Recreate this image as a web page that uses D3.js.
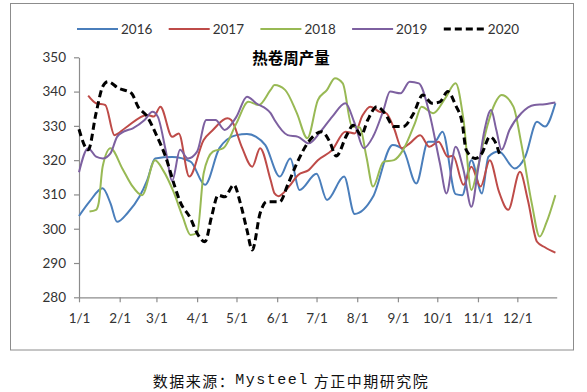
<!DOCTYPE html>
<html><head><meta charset="utf-8">
<script src="https://cdn.jsdelivr.net/npm/d3@7"></script>
<style>
html,body{margin:0;padding:0;background:#fff;}
svg{display:block;}
</style></head>
<body>
<svg id="chart" width="587" height="392"></svg>
<script>
// ---- data (day of year offsets from Jan 1, weekly readings) ----
const years = ["2016", "2017", "2018", "2019", "2020"];
const colors = ["#4A7EBB", "#BE4B48", "#98B954", "#7D60A0", "#000000"];
const yTicks = [280, 290, 300, 310, 320, 330, 340, 350];
const monthTicks = ["01-01","02-01","03-01","04-01","05-01","06-01","07-01","08-01","09-01","10-01","11-01","12-01"];

const days2016 = [0,8,18,24,29,37,46,52,58,71,85,96,107,120,128,135,142,153,161,168,181,189,202,210,224,239,247,257,266,271,277,287,292,299,307,312,320,332,340,349,355,363];
const vals2016 = [303.7,307.9,311.8,307.4,302,304.6,309.3,314.2,320.5,320.9,319.6,312.8,323.5,327.3,327.6,326.8,324.4,315.2,320.5,311.3,316,308.4,315.2,304.3,309.3,324.4,323,313.2,325.4,325.4,328.3,310.1,309.8,320,310.3,321,322.5,317.6,321,331.2,329.8,336.6];

const days2017 = [7,13,20,27,35,52,57,62,71,76,84,95,102,113,116,124,132,138,146,149,152,160,167,175,182,193,203,210,216,222,229,234,240,246,252,260,267,274,281,285,293,299,306,313,320,327,336,342,349,355,363];
const vals2017 = [338.8,336.6,336.1,327.3,329.3,333.2,332.7,335.6,326.8,327.8,315.2,325.9,328.8,332.2,331.7,323.9,318.1,323.5,314.2,310.3,309.5,312.3,315.7,317.1,320,323,328.3,327.8,333,335.6,334.1,333.7,329.3,323.5,324.9,327.3,323.9,325.4,321,321.3,312.8,318.1,312.3,320,310.8,305.5,316.6,308.4,296.2,294.6,293];

const days2018 = [8,13,15,18,24,33,40,48,58,64,72,79,85,90,95,102,110,120,129,137,146,149,157,166,174,182,189,195,201,208,214,219,224,232,240,247,256,261,270,279,287,293,299,304,311,317,322,331,337,345,351,356,363];
const vals2018 = [305,305.5,307.5,318.1,323.5,317.6,312.8,309.8,320,317.1,310.8,303.5,298.2,298.7,316.2,322.5,323.5,330.8,337,336.1,340.5,341.9,340.5,333.7,326.4,337.5,340.5,343.9,342.4,329.8,329.5,321,312.3,319.5,320,323,330.8,335.6,333.7,338,342.4,331.7,311.3,318.1,329.8,336.6,339,335.6,324.9,307.4,297.7,301.6,309.8];

const days2019 = [0,7,13,18,24,29,34,41,50,56,60,66,71,77,83,90,97,104,111,120,128,135,146,149,159,167,175,184,193,203,210,217,224,232,237,245,252,259,267,275,280,287,293,299,304,309,314,318,322,328,337,347,355,363];
const vals2019 = [316.5,323.5,321,320.5,322,326.8,328.3,329.3,331.7,334.1,332.7,323,314,323,320.5,322.5,331.7,331.7,328.8,332.7,338.5,336.6,333.7,331.7,327.3,326.8,324.9,328.3,332.7,336.6,330.8,323.5,326.8,334.6,340,339.5,342.9,342.4,333.7,319.1,310.3,323.9,317.1,306.4,317.1,328.8,334.6,328.8,323,328.8,333.7,336.1,336.3,336.8];

const days2020 = [0,7,13,18,22,30,40,45,52,59,66,73,77,85,90,96,101,106,111,118,123,128,132,138,143,153,159,166,175,185,191,196,204,209,215,220,227,233,240,247,255,262,269,275,281,287,292,295,302,307,313,317,321];
const vals2020 = [329,323,333.7,341.4,342.9,341,339.5,335.6,332.7,327.3,321,312.3,307.9,303,298.7,296.2,303.5,309.8,309.3,312.8,307.4,299.6,293.8,304.5,307.9,307.9,312.8,319.1,325.4,328.3,325.4,321.2,327.3,330.2,327.3,331.7,335.6,333.7,329.8,329.8,333.7,339,336.6,337,340,336,330.8,323,320.5,322,326.8,325.4,321];

const seriesDays = [days2016, days2017, days2018, days2019, days2020];
const seriesVals = [vals2016, vals2017, vals2018, vals2019, vals2020];

const title = "热卷周产量";
const source = ["数据来源：", "Mysteel", " 方正中期研究院"];

// ---- drawing ----
const svg = d3.select("#chart");
const base = new Date(2019, 0, 1);
const toDate = d => d3.timeDay.offset(base, d);
const parseMD = s => new Date(2019, +s.slice(0,2) - 1, +s.slice(3));

const margin = {left: 79, right: 30.3, top: 57.3, bottom: 94.7};
const W = 587, H = 392;

const x = d3.scaleTime()
  .domain([base, new Date(2019, 11, 31)])
  .range([margin.left, W - margin.right]);
const y = d3.scaleLinear()
  .domain([280, 350])
  .range([H - margin.bottom, margin.top]);

// outer frame
svg.append("rect")
  .attr("x", 10.5).attr("y", 3.5)
  .attr("width", 563).attr("height", 346.5)
  .attr("fill", "#fff").attr("stroke", "#8C8C8C").attr("stroke-width", 1);

const font = "Lato, 'Liberation Sans', sans-serif";

// y axis
const yAxis = svg.append("g")
  .attr("transform", `translate(${margin.left},0)`)
  .call(d3.axisLeft(y).tickValues(yTicks).tickSize(5).tickSizeOuter(0).tickPadding(8));
// x axis
const xAxis = svg.append("g")
  .attr("transform", `translate(0,${H - margin.bottom})`)
  .call(d3.axisBottom(x).tickValues(monthTicks.map(parseMD))
    .tickFormat(d3.timeFormat("%-m/%-d")).tickSize(5).tickSizeOuter(0).tickPadding(11));

[yAxis, xAxis].forEach(g => {
  g.selectAll(".domain").attr("stroke", "#8C8C8C").attr("stroke-width", 1.2);
  g.selectAll(".tick line").attr("stroke", "#8C8C8C").attr("stroke-width", 1.2);
  g.selectAll("text").attr("fill", "#333").style("font-family", font).style("font-size", "13.5px");
});

// lines
const line = d3.line()
  .x(d => x(toDate(d[0])))
  .y(d => y(d[1]))
  .curve(d3.curveMonotoneX);

years.forEach((yr, i) => {
  const pts = seriesDays[i].map((d, j) => [d, seriesVals[i][j]]);
  const p = svg.append("path")
    .datum(pts)
    .attr("d", line)
    .attr("fill", "none")
    .attr("stroke", colors[i])
    .attr("stroke-linejoin", "round");
  if (yr === "2020") {
    p.attr("stroke-width", 3).attr("stroke-dasharray", "7,4");
  } else {
    p.attr("stroke-width", 2);
  }
});

// title
svg.append("text")
  .attr("x", 291).attr("y", 57)
  .attr("text-anchor", "middle").attr("dominant-baseline", "central")
  .style("font-family", "'Noto Sans CJK SC', sans-serif")
  .style("font-weight", "bold").style("font-size", "15.5px")
  .attr("fill", "#000")
  .text(title);

// legend
const legend = svg.append("g");
years.forEach((yr, i) => {
  const lx = 77 + i * 91.7;
  const ly = 29;
  const l = legend.append("line")
    .attr("x1", lx).attr("x2", lx + 41)
    .attr("y1", ly).attr("y2", ly)
    .attr("stroke", colors[i]);
  if (yr === "2020") l.attr("stroke-width", 3).attr("stroke-dasharray", "7,4");
  else l.attr("stroke-width", 2);
  legend.append("text")
    .attr("x", lx + 44).attr("y", ly)
    .attr("dominant-baseline", "central")
    .style("font-family", font).style("font-size", "13.5px")
    .attr("fill", "#333")
    .text(yr);
});

// source
const src = svg.append("text")
  .attr("x", 291).attr("y", 380)
  .attr("text-anchor", "middle").attr("dominant-baseline", "central")
  .style("font-family", "'Noto Sans CJK SC', sans-serif")
  .style("font-size", "15px")
  .style("letter-spacing", "1.5px")
  .attr("fill", "#111");
src.append("tspan").text(source[0]);
src.append("tspan").style("font-family", "'Liberation Mono', monospace").text(source[1]);
src.append("tspan").text(source[2]);
</script>
</body></html>
